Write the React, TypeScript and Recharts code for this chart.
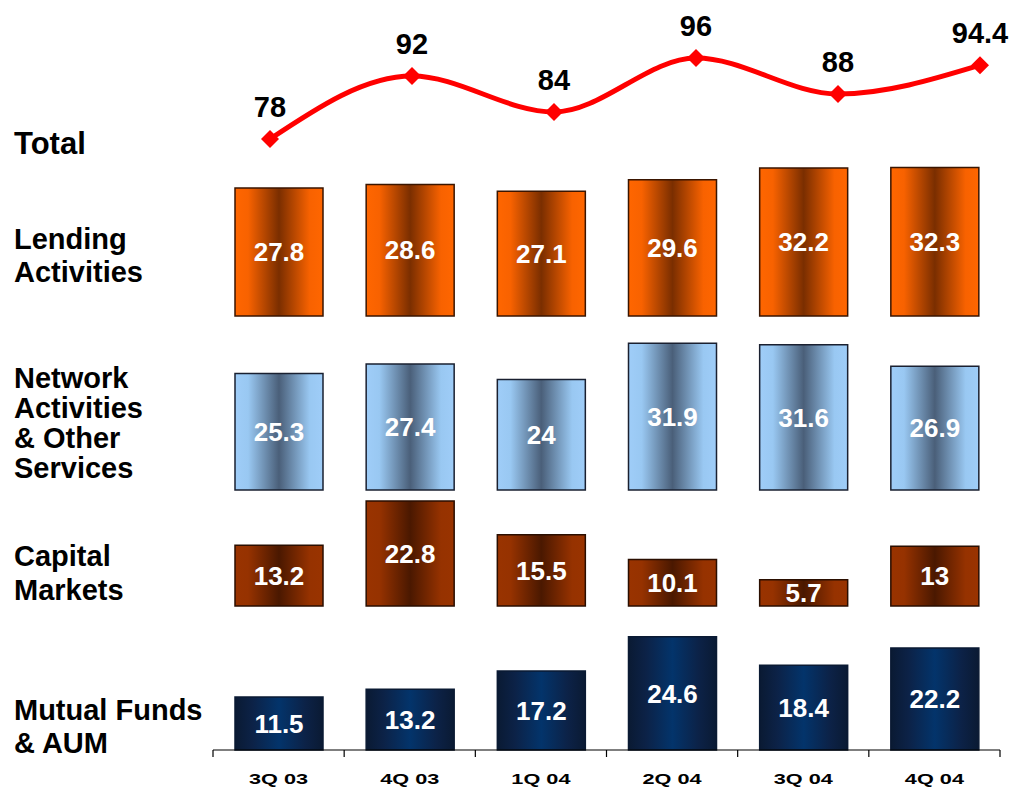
import { BarChart, Bar, LineChart, Line, XAxis, YAxis, LabelList } from "recharts"

const quarters = ["3Q 03", "4Q 03", "1Q 04", "2Q 04", "3Q 04", "4Q 04"]
const total = [78, 92, 84, 96, 88, 94.4]
const lending = [27.8, 28.6, 27.1, 29.6, 32.2, 32.3]
const network = [25.3, 27.4, 24, 31.9, 31.6, 26.9]
const capital = [13.2, 22.8, 15.5, 10.1, 5.7, 13]
const mutual = [11.5, 13.2, 17.2, 24.6, 18.4, 22.2]

const FONT = '"Liberation Sans", Arial, sans-serif'
const PX_PER_UNIT = 4.6
const PLOT_LEFT = 213
const PLOT_RIGHT = 1000
const BAND = (PLOT_RIGHT - PLOT_LEFT) / quarters.length

const toRows = (values: number[]) => quarters.map((q, i) => ({ q, value: values[i] }))

const Diamond = (props: any) => {
  const { cx, cy } = props
  if (cx == null || cy == null) return null
  return <polygon points={`${cx},${cy - 9} ${cx + 9},${cy} ${cx},${cy + 9} ${cx - 9},${cy}`} fill="#ff0000" />
}

const TotalLabel = (props: any) => {
  const { x, y, value } = props
  return (
    <text x={x} y={y - 22} textAnchor="middle" fontFamily={FONT} fontWeight="bold" fontSize={29} fill="#000">
      {value}
    </text>
  )
}

// tick marks sit on the category boundaries, label in the middle
const AxisTick = (props: any) => {
  const { x, y, payload, index } = props
  return (
    <g>
      <line x1={x - BAND / 2} y1={y - 8} x2={x - BAND / 2} y2={y - 1} stroke="#000" strokeWidth={1.2} />
      {index === quarters.length - 1 && (
        <line x1={x + BAND / 2} y1={y - 8} x2={x + BAND / 2} y2={y - 1} stroke="#000" strokeWidth={1.2} />
      )}
      <text
        transform={`translate(${x},${y + 26}) scale(1.4,1)`}
        textAnchor="middle"
        fontFamily={FONT}
        fontWeight="bold"
        fontSize={15.5}
        fill="#000"
      >
        {payload.value}
      </text>
    </g>
  )
}

interface PanelProps {
  id: string
  values: number[]
  top: number
  height: number
  stops: [number, string][]
  stroke: string
  showAxis?: boolean
}

function Panel({ id, values, top, height, stops, stroke, showAxis }: PanelProps) {
  const axisH = showAxis ? 42 : 0
  const pad = showAxis ? 0 : 12
  return (
    <div style={{ position: "absolute", left: 0, top }}>
      <BarChart
        width={1010}
        height={height + axisH + pad}
        data={toRows(values)}
        margin={{ top: 0, right: 1010 - PLOT_RIGHT, left: PLOT_LEFT, bottom: pad }}
      >
        <defs>
          <linearGradient id={id} x1="0" y1="0" x2="1" y2="0">
            {stops.map(([o, c], i) => (
              <stop key={i} offset={o} stopColor={c} />
            ))}
          </linearGradient>
        </defs>
        <XAxis
          dataKey="q"
          hide={!showAxis}
          height={axisH}
          axisLine={{ stroke: "#000", strokeWidth: 1.2 }}
          tickLine={false}
          tick={<AxisTick />}
          interval={0}
        />
        <YAxis hide domain={[0, height / PX_PER_UNIT]} />
        <Bar dataKey="value" barSize={88} fill={`url(#${id})`} stroke={stroke} strokeWidth={1.5} isAnimationActive={false}>
          <LabelList
            dataKey="value"
            position="center"
            fill="#fff"
            fontFamily={FONT}
            fontWeight="bold"
            fontSize={26}
          />
        </Bar>
      </BarChart>
    </div>
  )
}

const labelStyle = {
  position: "absolute" as const,
  left: 14,
  fontFamily: FONT,
  fontWeight: "bold" as const,
  fontSize: 29,
  color: "#000",
  whiteSpace: "nowrap" as const,
}

export default function App() {
  return (
    <div style={{ position: "absolute", left: 0, top: 0, width: 1010, height: 791, background: "#fff", overflow: "hidden" }}>
      <div style={{ ...labelStyle, top: 127, fontSize: 31, lineHeight: "33px" }}>Total</div>
      <div style={{ ...labelStyle, top: 223, lineHeight: "33px" }}>Lending<br />Activities</div>
      <div style={{ ...labelStyle, top: 363, lineHeight: "30px" }}>Network<br />Activities<br />&amp; Other<br />Services</div>
      <div style={{ ...labelStyle, top: 539, lineHeight: "34px" }}>Capital<br />Markets</div>
      <div style={{ ...labelStyle, top: 694, lineHeight: "33px" }}>Mutual Funds<br />&amp; AUM</div>

      <div style={{ position: "absolute", left: 0, top: 0 }}>
        <LineChart width={1010} height={200} data={toRows(total)} margin={{ top: 40, right: 30, left: 270, bottom: 25 }}>
          <XAxis dataKey="q" hide />
          <YAxis hide domain={[70, 100]} />
          <Line
            type="monotone"
            dataKey="value"
            stroke="#ff0000"
            strokeWidth={5}
            dot={<Diamond />}
            activeDot={false}
            isAnimationActive={false}
          >
            <LabelList dataKey="value" content={<TotalLabel />} />
          </Line>
        </LineChart>
      </div>

      <Panel
        id="gLending"
        values={lending}
        top={160}
        height={156}
        stroke="#3a1500"
        stops={[[0, "#ff6600"], [0.15, "#f86200"], [0.5, "#7a2e00"], [0.85, "#f86200"], [1, "#ff6600"]]}
      />
      <Panel
        id="gNetwork"
        values={network}
        top={335}
        height={155}
        stroke="#1a2030"
        stops={[[0, "#9fcdf8"], [0.15, "#99c8f2"], [0.5, "#4a5f79"], [0.85, "#99c8f2"], [1, "#9fcdf8"]]}
      />
      <Panel
        id="gCapital"
        values={capital}
        top={495}
        height={111}
        stroke="#2a0e00"
        stops={[[0, "#993300"], [0.15, "#963200"], [0.5, "#4a1800"], [0.85, "#963200"], [1, "#993300"]]}
      />
      <Panel
        id="gMutual"
        values={mutual}
        top={625}
        height={125}
        stroke="#0a1a33"
        showAxis
        stops={[[0, "#0a1a33"], [0.2, "#0c2247"], [0.5, "#03346b"], [0.8, "#0c2247"], [1, "#0a1a33"]]}
      />
    </div>
  )
}
